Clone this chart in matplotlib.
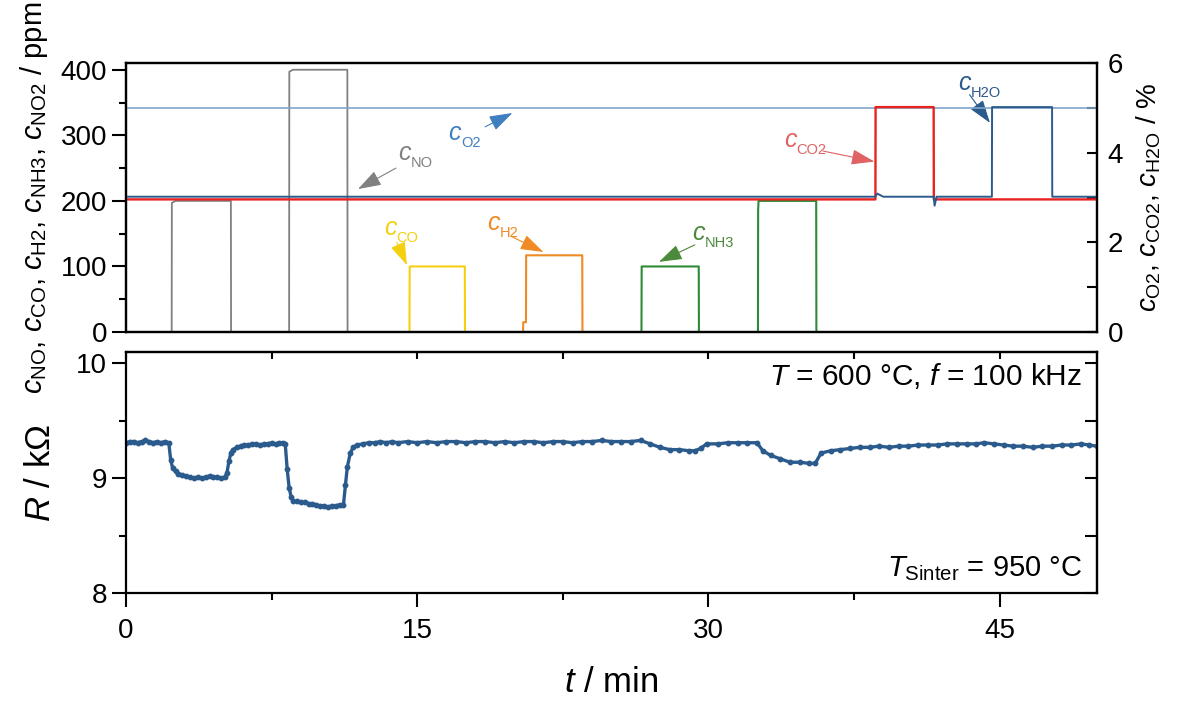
import numpy as np
import matplotlib
matplotlib.use('Agg')
import matplotlib.pyplot as plt
from matplotlib.ticker import MultipleLocator

plt.rcParams['font.family'] = ['Liberation Sans', 'DejaVu Sans']
plt.rcParams['mathtext.fontset'] = 'custom'
plt.rcParams['mathtext.rm'] = 'Liberation Sans'
plt.rcParams['mathtext.it'] = 'Liberation Sans:italic'
plt.rcParams['mathtext.bf'] = 'Liberation Sans:bold'

# gas concentrations (ppm), step profiles
t_gray = [0, 2.35, 2.36, 2.55, 5.40, 5.41, 8.40, 8.41, 8.60, 11.40, 11.41, 50]
c_gray = [0, 0, 197, 200, 200, 0, 0, 397, 400, 400, 0, 0]
t_co = [0, 14.60, 14.61, 17.45, 17.46, 50]
c_co = [0, 0, 100, 100, 0, 0]
t_h2 = [0, 20.45, 20.46, 20.60, 20.61, 23.50, 23.51, 50]
c_h2 = [0, 0, 15, 15, 117, 117, 0, 0]
t_nh3 = [0, 26.55, 26.56, 29.50, 29.51, 32.55, 32.56, 32.58, 35.55, 35.56, 50]
c_nh3 = [0, 0, 100, 100, 0, 0, 186, 200, 200, 0, 0]

# percent gases
t_o2 = [0, 50]
c_o2 = [5.0, 5.0]
t_co2 = [0, 38.60, 38.61, 41.60, 41.61, 50]
c_co2 = [2.96, 2.96, 5.02, 5.02, 2.96, 2.96]
t_h2o = [0, 38.60, 38.70, 39.00, 41.60, 41.65, 41.75, 44.60, 44.61, 47.70, 47.71, 50]
c_h2o = [3.02, 3.02, 3.09, 3.02, 3.02, 2.82, 3.02, 3.02, 5.02, 5.02, 3.02, 3.02]

# sensor resistance (kOhm)
t_R = [0, 0.2, 0.4, 0.6, 0.8, 1.0, 1.2, 1.4, 1.6, 1.8, 2.0, 2.2,
       2.3, 2.4, 2.55, 2.7, 2.9, 3.1, 3.3, 3.5, 3.7, 3.9, 4.1, 4.3, 4.5, 4.7, 4.9, 5.1,
       5.2, 5.3, 5.4, 5.5, 5.7, 5.9, 6.1, 6.3, 6.5, 6.7, 6.9, 7.1, 7.3, 7.5, 7.7, 7.9, 8.1, 8.2,
       8.3, 8.4, 8.5, 8.6, 8.8, 9.0, 9.2, 9.4, 9.6, 9.8, 10.0, 10.2, 10.4, 10.6, 10.8, 11.0, 11.2,
       11.3, 11.4, 11.55, 11.7, 11.9, 12.2, 12.5, 12.8, 13.1, 13.4, 13.7, 14.0,
       14.5, 15.0, 15.5, 16.0, 16.5, 17.0, 17.5, 18.0, 18.5, 19.0, 19.5, 20.0, 20.5, 21.0,
       21.5, 22.0, 22.5, 23.0, 23.5, 24.0, 24.5, 25.0, 25.5, 26.0, 26.5, 27.0, 27.5, 28.0,
       28.5, 29.0, 29.3, 29.6, 29.9, 30.5, 31.0, 31.5, 32.0, 32.5, 32.8, 33.2, 33.7, 34.2,
       34.7, 35.2, 35.5, 35.8, 36.3, 36.8, 37.3, 37.8, 38.3, 38.8, 39.3, 39.8, 40.3, 40.8,
       41.3, 41.8, 42.3, 42.8, 43.3, 43.8, 44.2, 44.7, 45.2, 45.7, 46.2, 46.7, 47.2, 47.7,
       48.2, 48.7, 49.2, 49.6, 50.0]
R = [9.31, 9.32, 9.32, 9.31, 9.32, 9.33, 9.32, 9.31, 9.32, 9.31, 9.32, 9.31,
     9.16, 9.09, 9.06, 9.04, 9.03, 9.02, 9.01, 9.00, 9.01, 9.00, 9.01, 9.02, 9.01, 9.01, 9.00, 9.01,
     9.05, 9.15, 9.22, 9.25, 9.27, 9.28, 9.29, 9.29, 9.30, 9.30, 9.29, 9.30, 9.30, 9.31, 9.30, 9.31, 9.31, 9.30,
     9.08, 8.92, 8.84, 8.80, 8.80, 8.79, 8.79, 8.78, 8.78, 8.77, 8.76, 8.76, 8.75, 8.76, 8.76, 8.77, 8.77,
     8.94, 9.10, 9.22, 9.27, 9.29, 9.30, 9.31, 9.31, 9.32, 9.31, 9.32, 9.31,
     9.32, 9.31, 9.32, 9.31, 9.32, 9.32, 9.31, 9.32, 9.32, 9.31, 9.32, 9.31, 9.32, 9.32,
     9.31, 9.32, 9.32, 9.31, 9.32, 9.32, 9.33, 9.32, 9.32, 9.32, 9.33, 9.30, 9.27, 9.25,
     9.25, 9.24, 9.24, 9.26, 9.30, 9.30, 9.31, 9.31, 9.31, 9.31, 9.24, 9.20, 9.17, 9.14,
     9.14, 9.13, 9.13, 9.22, 9.24, 9.25, 9.26, 9.27, 9.27, 9.28, 9.27, 9.28, 9.28, 9.29,
     9.29, 9.29, 9.30, 9.30, 9.30, 9.30, 9.31, 9.30, 9.29, 9.28, 9.28, 9.27, 9.28, 9.28,
     9.29, 9.29, 9.30, 9.29, 9.28]

gray = '#808080'
yellow = '#f5d010'
orange = '#f08a24'
green = '#2e8b35'
red = '#e8221e'
dblue = '#2b5a8c'
lblue = '#7ea6c9'

fig = plt.figure(figsize=(11.78, 7.02), dpi=100)
ax1 = fig.add_axes([0.107, 0.527, 0.824, 0.383])
ax2 = ax1.twinx()
ax3 = fig.add_axes([0.107, 0.155, 0.824, 0.3436])

ax1.plot(t_gray, c_gray, color=gray, lw=1.3)
ax1.plot(t_co, c_co, color=yellow, lw=1.5)
ax1.plot(t_h2, c_h2, color=orange, lw=1.5)
ax1.plot(t_nh3, c_nh3, color=green, lw=1.5)
ax2.plot(t_o2, c_o2, color=lblue, lw=1.2)
ax2.plot(t_co2, c_co2, color=red, lw=1.7)
ax2.plot(t_h2o, c_h2o, color=dblue, lw=1.4)

ax1.set_xlim(0, 50)
ax1.set_ylim(0, 410)
ax2.set_ylim(0, 6)
ax1.yaxis.set_major_locator(MultipleLocator(100))
ax1.yaxis.set_minor_locator(MultipleLocator(50))
ax2.yaxis.set_major_locator(MultipleLocator(2))
ax2.yaxis.set_minor_locator(MultipleLocator(1))
ax1.tick_params(axis='x', which='both', bottom=False, labelbottom=False)
ax1.tick_params(axis='y', which='major', direction='out', length=10, width=1.5, labelsize=20)
ax1.tick_params(axis='y', which='minor', direction='out', length=5, width=1.5)
ax2.tick_params(axis='y', which='both', direction='in', length=7, width=1.5, labelsize=20, pad=8)

ax1.set_ylabel(r'$c_{\mathrm{NO}}$, $c_{\mathrm{CO}}$, $c_{\mathrm{H2}}$, $c_{\mathrm{NH3}}$, $c_{\mathrm{NO2}}$ / ppm',
               fontsize=21, labelpad=8)
ax2.set_ylabel(r'$c_{\mathrm{O2}}$, $c_{\mathrm{CO2}}$, $c_{\mathrm{H2O}}$ / %', fontsize=20, labelpad=8)

# gas labels: italic c, small subscript, thin arrow
notes = [
    ('NO', gray, (14.0, 262), (13.9, 250), (11.95, 218)),
    ('O2', '#3f7fc0', (16.6, 293), (18.5, 313), (19.9, 334)),
    ('CO', yellow, (13.3, 148), (13.95, 137), (14.47, 102)),
    ('H2', orange, (18.6, 156), (19.9, 145), (21.5, 122)),
    ('NH3', '#4a8a3a', (29.15, 140), (29.3, 133), (27.45, 107)),
    ('CO2', '#e06262', (33.9, 282), (35.9, 276), (38.55, 260)),
    ('H2O', dblue, (42.85, 369), (43.45, 362), (44.5, 319)),
]
for sub, col, pos, tail, tip in notes:
    ax1.text(pos[0], pos[1], 'c', color=col, fontsize=18, style='italic', ha='left', va='baseline')
    ax1.annotate(sub, xy=pos, xytext=(9, -5), textcoords='offset points', color=col,
                 fontsize=10.5, ha='left', va='baseline')
    ax1.annotate('', xy=tip, xytext=tail,
                 arrowprops=dict(arrowstyle='-|>,head_length=0.9,head_width=0.3',
                                 color=col, lw=0.8, shrinkA=0, shrinkB=0, mutation_scale=16))

# resistance
ax3.plot(t_R, R, color=dblue, lw=2.4, marker='o', ms=3.2)
ax3.set_xlim(0, 50)
ax3.set_ylim(8, 10.1)
ax3.set_xticks([0, 15, 30, 45])
ax3.xaxis.set_minor_locator(MultipleLocator(7.5))
ax3.set_yticks([8, 9, 10])
ax3.yaxis.set_minor_locator(MultipleLocator(0.5))
ax3.tick_params(axis='both', which='major', direction='out', length=10, width=1.5, labelsize=20)
ax3.tick_params(axis='both', which='minor', direction='out', length=5, width=1.5)
ax3.tick_params(axis='x', which='major', pad=8)

top = ax3.secondary_xaxis('top')
top.set_xticks(np.arange(0, 51, 7.5))
top.tick_params(direction='in', length=5, width=1.5, labeltop=False)
right = ax3.secondary_yaxis('right')
right.set_yticks(np.arange(8, 10.01, 0.5))
right.tick_params(direction='in', length=9, width=1.5, labelright=False)

ax3.set_ylabel(r'$R$ / k$\Omega$', fontsize=25, labelpad=14)
ax3.set_xlabel(r'$t$ / min', fontsize=25, labelpad=16)
ax3.text(0.985, 0.9, r'$T$ = 600 °C, $f$ = 100 kHz', transform=ax3.transAxes,
         fontsize=21.5, ha='right', va='center')
ax3.text(0.985, 0.1, r'$T_{\mathrm{Sinter}}$ = 950 °C', transform=ax3.transAxes,
         fontsize=21, ha='right', va='center')

for ax in (ax1, ax2, ax3, top, right):
    for s in ax.spines.values():
        s.set_linewidth(1.6)

fig.savefig('out.png', dpi=100)
